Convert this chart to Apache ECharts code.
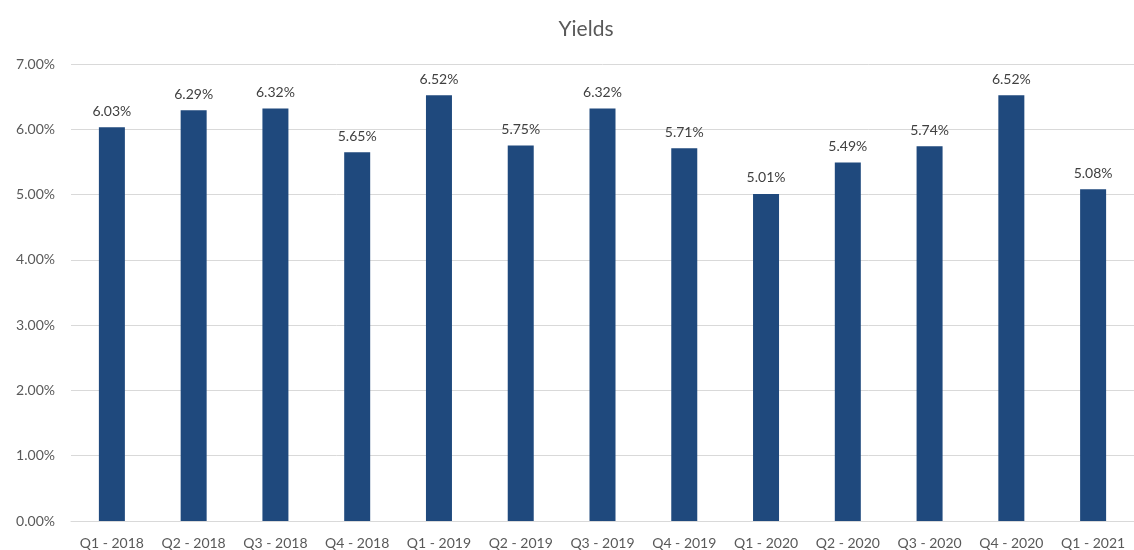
<!DOCTYPE html>
<html lang="en">
<head>
    <meta charset="UTF-8">
    <title>Yields</title>
    <script type="text/javascript" src="https://cdn.jsdelivr.net/npm/echarts@6/dist/echarts.min.js"></script>
</head>
<body style="margin:0;">
<div id="main" style="width:1134px;height:550px;background:#fff;"></div>
<script type="text/javascript">
    // quarters and yields (%)
    var quarters = ['Q1 - 2018', 'Q2 - 2018', 'Q3 - 2018', 'Q4 - 2018',
                    'Q1 - 2019', 'Q2 - 2019', 'Q3 - 2019', 'Q4 - 2019',
                    'Q1 - 2020', 'Q2 - 2020', 'Q3 - 2020', 'Q4 - 2020',
                    'Q1 - 2021'];
    var yields = [6.03, 6.29, 6.32, 5.65, 6.52, 5.75, 6.32, 5.71, 5.01, 5.49, 5.74, 6.52, 5.08];

    var myChart = echarts.init(document.getElementById('main'));
    var font = 'Lato, "Open Sans", sans-serif';

    var option = {
        animation: false,
        title: {
            text: 'Yields',
            left: 581,
            top: 14,
            textAlign: 'center',
            textStyle: {
                color: '#595959',
                fontSize: 21,
                fontWeight: 'normal',
                fontFamily: font
            }
        },
        grid: {
            left: 71,
            right: -5,
            top: 64,
            bottom: 27,
            containLabel: false
        },
        xAxis: {
            type: 'category',
            data: quarters,
            axisLine: {show: true, lineStyle: {color: '#d9d9d9', width: 1}},
            axisTick: {show: false},
            axisLabel: {
                interval: 0,
                color: '#595959',
                fontSize: 14,
                fontFamily: font,
                margin: 15
            }
        },
        yAxis: {
            type: 'value',
            min: 0,
            max: 7,
            interval: 1,
            axisLine: {show: false},
            axisTick: {show: false},
            splitLine: {lineStyle: {color: '#d9d9d9', width: 1}},
            axisLabel: {
                color: '#595959',
                fontSize: 14,
                fontFamily: font,
                margin: 16,
                formatter: function (v) { return v.toFixed(2) + '%'; }
            }
        },
        series: [{
            name: 'Yields',
            type: 'bar',
            data: yields,
            barWidth: 26,
            itemStyle: {color: '#1f497d'},
            label: {
                show: true,
                position: 'top',
                distance: 9,
                color: '#404040',
                fontSize: 14,
                fontFamily: font,
                formatter: function (p) { return p.value.toFixed(2) + '%'; }
            }
        }]
    };

    option && myChart.setOption(option);
</script>
</body>
</html>
